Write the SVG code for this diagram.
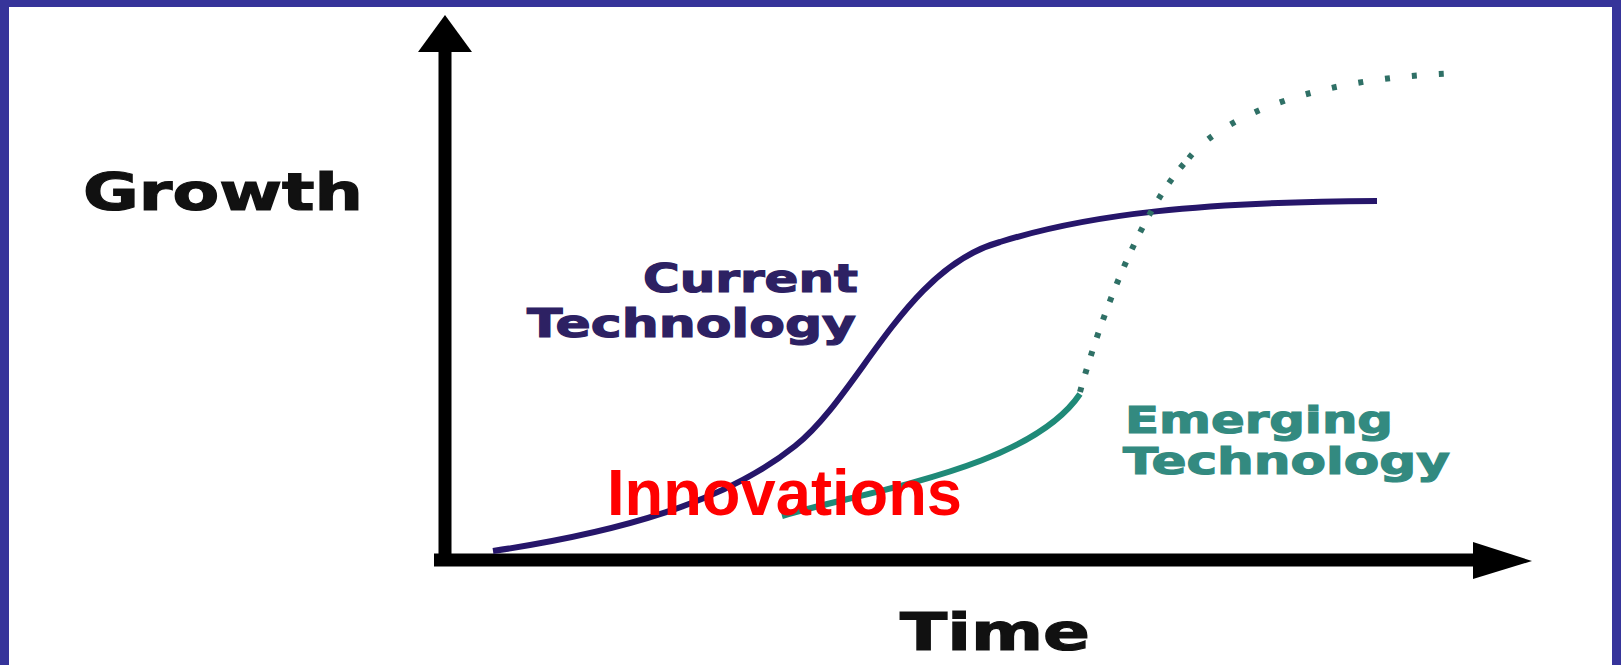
<svg xmlns="http://www.w3.org/2000/svg" width="1621" height="665" viewBox="0 0 1621 665">
  <style>
    .axis { stroke: #000; stroke-width: 13; fill: none; }
    .head { fill: #000; }
    .cur { stroke: #26166a; stroke-width: 6; fill: none; }
    .emg { stroke: #1f8a78; stroke-width: 6; fill: none; }
    .dots { stroke: #2f7066; stroke-width: 6; fill: none; }
    .lbl { font-family: "DejaVu Sans", Verdana, sans-serif; font-weight: bold; stroke-width: 1.2; }
    .ax { fill: #111; stroke: #111; font-size: 51px; }
    .curlbl { fill: #2d2163; stroke: #2d2163; font-size: 39px; }
    .emglbl { fill: #338a80; stroke: #338a80; font-size: 38px; }
    .inno { font-family: "Liberation Sans", Arial, sans-serif; font-weight: bold; fill: #ff0000; font-size: 64px; }
  </style>
  <rect x="0" y="0" width="1621" height="665" fill="#ffffff"/>
  <g id="frame" fill="#36349a">
    <rect x="0" y="0" width="1621" height="7"/>
    <rect x="0" y="0" width="9" height="665"/>
    <rect x="1612" y="0" width="9" height="665"/>
  </g>
  <g id="connectors">
    <g id="y-axis">
      <line class="axis" x1="445" y1="48" x2="445" y2="566"/>
      <polygon class="head" points="445,15 418,52 472,52"/>
    </g>
    <g id="x-axis">
      <line class="axis" x1="434" y1="560" x2="1478" y2="560"/>
      <polygon class="head" points="1532,561 1473,542 1473,579"/>
    </g>
    <g id="current-curve">
      <path class="cur" d="M 493 551 C 620 532, 725 502, 795 446 C 860 394, 905 268, 1000 242 C 1090 214, 1200 202, 1377 201"/>
    </g>
    <g id="emerging-curve">
      <path class="emg" d="M 782 516 C 870 490, 1030 468, 1080 394"/>
      <path class="dots" stroke-dasharray="5 14" d="M 1080 392 C 1100 320, 1140 210, 1189 158"/>
      <path class="dots" stroke-dasharray="5 22" d="M 1189 158 C 1212 128, 1290 78, 1462 73"/>
    </g>
  </g>
  <g id="growth-label">
    <text class="lbl ax" x="83" y="210" textLength="280" lengthAdjust="spacingAndGlyphs">Growth</text>
  </g>
  <g id="time-label">
    <text class="lbl ax" x="900" y="650" textLength="190" lengthAdjust="spacingAndGlyphs">Time</text>
  </g>
  <g id="current-label">
    <text class="lbl curlbl" x="643" y="292" textLength="215" lengthAdjust="spacingAndGlyphs">Current</text>
    <text class="lbl curlbl" x="527" y="337" textLength="329" lengthAdjust="spacingAndGlyphs">Technology</text>
  </g>
  <g id="emerging-label">
    <text class="lbl emglbl" x="1125" y="433" textLength="268" lengthAdjust="spacingAndGlyphs">Emerging</text>
    <text class="lbl emglbl" x="1123" y="474" textLength="327" lengthAdjust="spacingAndGlyphs">Technology</text>
  </g>
  <g id="innovations-label">
    <text class="inno" x="607" y="515" textLength="355" lengthAdjust="spacingAndGlyphs">Innovations</text>
  </g>
</svg>
